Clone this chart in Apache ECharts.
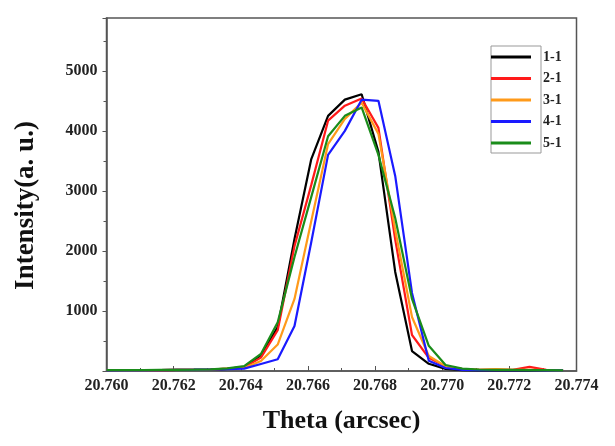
<!DOCTYPE html>
<html>
<head>
<meta charset="utf-8">
<script src="https://cdn.jsdelivr.net/npm/echarts@6/dist/echarts.min.js"></script>
<style>html,body{margin:0;padding:0;background:#fff;}#chart{width:615px;height:446px;}</style>
</head>
<body>
<div id="chart"></div>
<script>
// Theta positions (arcsec)
var theta = [20.7600, 20.7606, 20.7611, 20.7616, 20.7621, 20.7626, 20.7631, 20.7636, 20.7641, 20.7646,
             20.7651, 20.7656, 20.7661, 20.7666, 20.7671, 20.7676, 20.7681, 20.7686, 20.7691, 20.7696,
             20.7701, 20.7706, 20.7711, 20.7716, 20.7721, 20.7726, 20.7731, 20.7736];
var seriesNames = ['1-1', '2-1', '3-1', '4-1', '5-1'];
var s11 = [15, 15, 12, 15, 18, 20, 22, 35, 70, 260, 730, 2200, 3530, 4250, 4520, 4610, 3650, 1650, 333, 120, 35, 15, 10, 8, 8, 8, 8, 8];
var s21 = [15, 15, 12, 15, 18, 20, 25, 40, 60, 222, 680, 2080, 3100, 4170, 4420, 4540, 4050, 2190, 600, 220, 80, 30, 20, 25, 20, 70, 20, 15];
var s31 = [15, 12, 12, 15, 18, 20, 25, 40, 50, 167, 440, 1200, 2500, 3780, 4200, 4470, 3950, 2350, 900, 250, 80, 30, 20, 30, 20, 20, 15, 12];
var s41 = [10, 10, 12, 15, 20, 22, 25, 30, 40, 117, 195, 750, 2150, 3600, 4000, 4520, 4500, 3250, 1300, 170, 50, 20, 15, 15, 15, 15, 12, 10];
var s51 = [15, 15, 15, 18, 20, 22, 28, 45, 80, 283, 810, 1900, 2900, 3910, 4250, 4390, 3600, 2550, 1200, 420, 100, 40, 25, 20, 20, 15, 15, 12];
var xTicks = [20.760, 20.762, 20.764, 20.766, 20.768, 20.770, 20.772, 20.774];
var yTicks = [1000, 2000, 3000, 4000, 5000];

var allValues = [s11, s21, s31, s41, s51];
var colors = ['#000000', '#ff1a1a', '#ff9a1a', '#1a1aff', '#1a8c1a'];
var font = '"Liberation Serif", "Times New Roman", serif';

function pairs(vals) { return theta.map(function (t, i) { return [t, vals[i]]; }); }

var chart = echarts.init(document.getElementById('chart'), null, {renderer: 'canvas'});
chart.setOption({
  animation: false,
  backgroundColor: '#fff',
  grid: {left: 106.5, right: 38.5, top: 18, bottom: 75, show: true, borderColor: '#555', borderWidth: 1.5, backgroundColor: 'transparent'},
  xAxis: {
    type: 'value', min: xTicks[0], max: xTicks[xTicks.length - 1], interval: 0.002,
    name: 'Theta (arcsec)', nameLocation: 'middle', nameGap: 37,
    nameTextStyle: {fontFamily: font, fontWeight: 'bold', fontSize: 26, color: '#111'},
    axisLine: {lineStyle: {color: '#555', width: 1.5}},
    axisTick: {inside: true, length: 5, lineStyle: {color: '#555'}},
    minorTick: {show: true, splitNumber: 2, length: 3, lineStyle: {color: '#555'}},
    splitLine: {show: false},
    axisLabel: {fontFamily: font, fontWeight: 'bold', fontSize: 16, color: '#222', margin: 7,
      formatter: function (v) { return v.toFixed(3); }}
  },
  yAxis: {
    type: 'value', min: 0, max: 5880, interval: 1000,
    name: 'Intensity(a. u.)', nameLocation: 'middle', nameGap: 67, nameRotate: 90,
    nameTextStyle: {fontFamily: font, fontWeight: 'bold', fontSize: 27, color: '#111', padding: [0, 22, 0, 0]},
    axisLine: {lineStyle: {color: '#555', width: 1.5}},
    axisTick: {inside: false, length: 4, lineStyle: {color: '#555'}},
    minorTick: {show: true, splitNumber: 2, length: 3, lineStyle: {color: '#555'}},
    splitLine: {show: false},
    axisLabel: {fontFamily: font, fontWeight: 'bold', fontSize: 16, color: '#222', margin: 9,
      formatter: function (v) { return yTicks.indexOf(v) >= 0 ? String(v) : ''; }}
  },
  legend: [{
    orient: 'vertical', left: 491, top: 46, selectedMode: false,
    data: seriesNames.map(function (n) { return {name: n, icon: 'rect'}; }),
    itemWidth: 40, itemHeight: 3, itemGap: 18.5,
    padding: [9.5, 5, 8.5, 0], borderColor: '#999', borderWidth: 1,
    formatter: function () { return ''; },
    textStyle: {fontSize: 14, lineHeight: 14}
  }, {
    orient: 'vertical', left: 537, top: 46, selectedMode: false,
    data: seriesNames.map(function (n) { return {name: n, icon: 'rect', itemStyle: {opacity: 0}}; }),
    itemWidth: 1, itemHeight: 3, itemGap: 7.5, padding: [4, 0, 4, 0],
    textStyle: {fontFamily: font, fontWeight: 'bold', fontSize: 14, lineHeight: 14, color: '#222'}
  }],
  series: seriesNames.map(function (n, i) {
    return {
      name: n, type: 'line', data: pairs(allValues[i]), symbol: 'none', showSymbol: false,
      color: colors[i], lineStyle: {color: colors[i], width: 2.2}
    };
  })
});
</script>
</body>
</html>
